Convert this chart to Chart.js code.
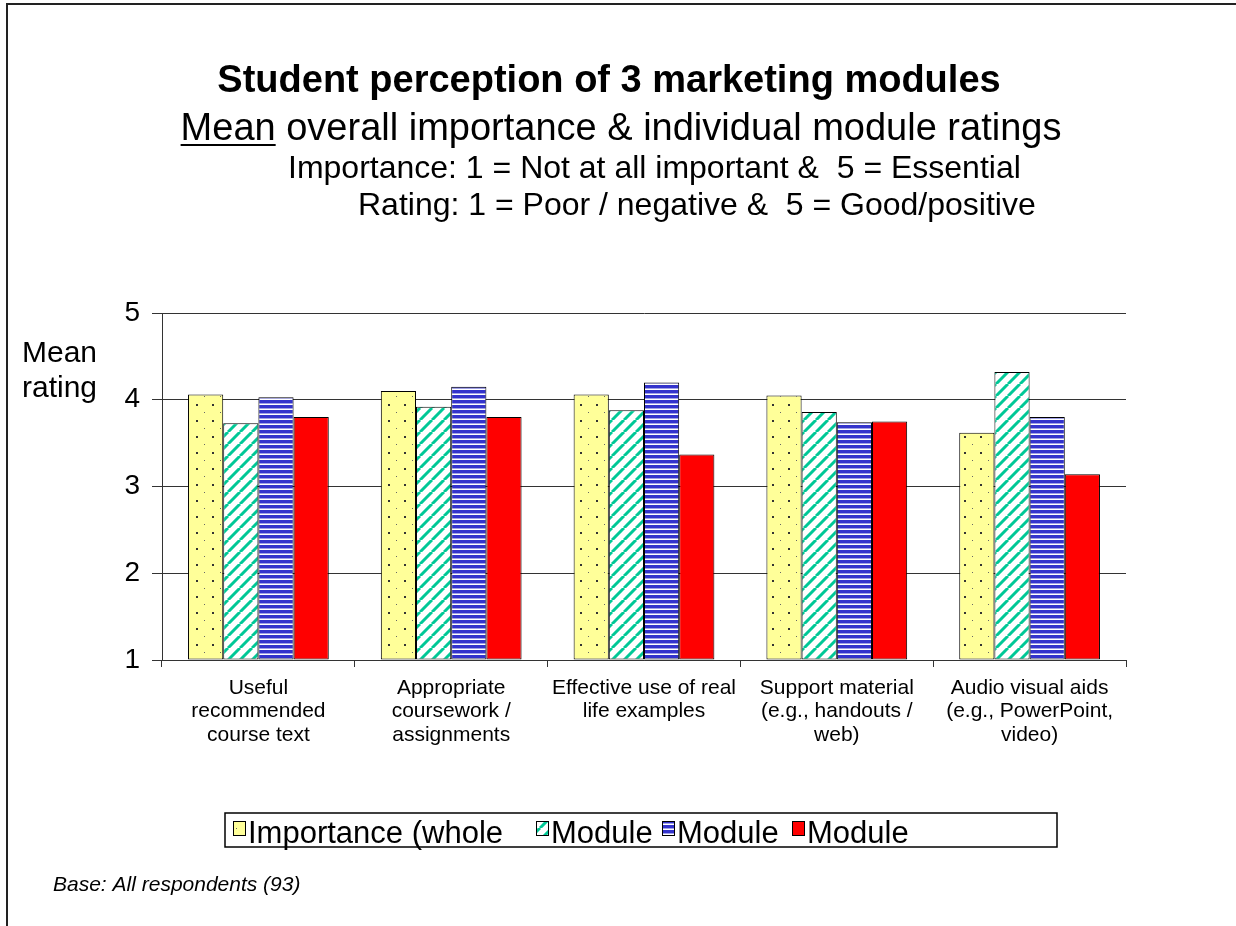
<!DOCTYPE html>
<html>
<head>
<meta charset="utf-8">
<script src="https://cdn.jsdelivr.net/npm/chart.js@4.4.1/dist/chart.umd.min.js"></script>
<style>
  body { margin: 0; background: #fff; }
  #wrap { position: absolute; left: 0; top: 0; width: 1236px; height: 926px; }
</style>
</head>
<body>
<div id="wrap"><canvas id="chart" width="1236" height="926"></canvas></div>
<script>
// data
const categories = [
    ["Useful", "recommended", "course text"],
    ["Appropriate", "coursework /", "assignments"],
    ["Effective use of real", "life examples"],
    ["Support material", "(e.g., handouts /", "web)"],
    ["Audio visual aids", "(e.g., PowerPoint,", "video)"]
];
const seriesNames = ["Importance (whole", "Module", "Module", "Module"];
const importance = [4.06, 4.10, 4.06, 4.05, 3.62];
const moduleA = [3.73, 3.92, 3.88, 3.86, 4.32];
const moduleB = [4.03, 4.15, 4.20, 3.74, 3.80];
const moduleC = [3.80, 3.80, 3.37, 3.75, 3.14];
const yTicks = [1, 2, 3, 4, 5];

const FONT = "Arial, 'Liberation Sans', sans-serif";

// fill patterns, excel style
function dotPattern() {
    const c = document.createElement("canvas");
    c.width = 16; c.height = 16;
    const g = c.getContext("2d");
    g.fillStyle = "#FFFF99";
    g.fillRect(0, 0, 16, 16);
    g.fillStyle = "#333";
    g.fillRect(4, 4, 2, 2);
    g.fillStyle = "#666";
    g.fillRect(12, 12, 1, 1);
    return g.createPattern(c, "repeat");
}

function diagPattern() {
    const p = 12;
    const c = document.createElement("canvas");
    c.width = p; c.height = p;
    const g = c.getContext("2d");
    g.fillStyle = "#fff";
    g.fillRect(0, 0, p, p);
    g.strokeStyle = "#00C896";
    g.lineWidth = 3;
    g.beginPath();
    for (let k = -p; k <= p; k += p) {
        g.moveTo(k, p);
        g.lineTo(k + p, 0);
    }
    g.stroke();
    return g.createPattern(c, "repeat");
}

function stripePattern() {
    const c = document.createElement("canvas");
    c.width = 8; c.height = 5;
    const g = c.getContext("2d");
    g.fillStyle = "#fff";
    g.fillRect(0, 0, 8, 5);
    g.fillStyle = "#3333CC";
    g.fillRect(0, 0, 8, 3);
    g.fillStyle = "#A0A0E8";
    g.fillRect(0, 3, 8, 1);
    return g.createPattern(c, "repeat");
}

const fills = [dotPattern(), diagPattern(), stripePattern(), "#FF0000"];
const values = [importance, moduleA, moduleB, moduleC];

const decor = {
    id: "decor",
    afterDraw(chart) {
        const ctx = chart.ctx;
        ctx.save();
        // page frame
        ctx.strokeStyle = "#222";
        ctx.lineWidth = 2;
        ctx.beginPath();
        ctx.moveTo(7, 927);
        ctx.lineTo(7, 4);
        ctx.lineTo(1236, 4);
        ctx.stroke();

        ctx.fillStyle = "#000";
        ctx.textBaseline = "alphabetic";
        ctx.textAlign = "center";
        ctx.font = "bold 38px " + FONT;
        ctx.fillText("Student perception of 3 marketing modules", 609, 92);

        ctx.font = "38px " + FONT;
        const sub = "Mean overall importance & individual module ratings";
        ctx.fillText(sub, 621, 140);
        const full = ctx.measureText(sub).width;
        const meanW = ctx.measureText("Mean").width;
        const sx = 621 - full / 2;
        ctx.fillRect(sx, 144, meanW, 2);

        ctx.textAlign = "left";
        ctx.font = "32px " + FONT;
        ctx.fillText("Importance: 1 = Not at all important &  5 = Essential", 288, 178);
        ctx.fillText("Rating: 1 = Poor / negative &  5 = Good/positive", 358, 215);

        ctx.font = "30px " + FONT;
        ctx.fillText("Mean", 22, 362);
        ctx.fillText("rating", 22, 397);

        ctx.font = "italic 21px " + FONT;
        ctx.fillText("Base: All respondents (93)", 53, 891);

        // legend box
        ctx.strokeStyle = "#000";
        ctx.lineWidth = 1.5;
        ctx.strokeRect(225, 813, 832, 34);
        const itemX = [233, 536, 662, 792];
        ctx.font = "31px " + FONT;
        chart.data.datasets.forEach((ds, i) => {
            ctx.fillStyle = ds.backgroundColor;
            ctx.fillRect(itemX[i], 821, 12, 14);
            ctx.lineWidth = 1;
            ctx.strokeRect(itemX[i] + 0.5, 821.5, 12, 14);
            ctx.fillStyle = "#000";
            ctx.fillText(ds.label, itemX[i] + 15, 843);
        });
        ctx.restore();
    }
};

new Chart(document.getElementById("chart"), {
    type: "bar",
    data: {
        labels: categories,
        datasets: values.map((v, i) => ({
            label: seriesNames[i],
            data: v,
            base: 1,
            backgroundColor: fills[i],
            borderColor: "#000",
            borderWidth: 1,
            borderSkipped: false,
            categoryPercentage: 0.73,
            barPercentage: 1
        }))
    },
    options: {
        responsive: false,
        animation: false,
        layout: { padding: { left: 0, right: 110, top: 313, bottom: 166 } },
        plugins: {
            legend: { display: false },
            title: { display: false },
            tooltip: { enabled: false }
        },
        scales: {
            x: {
                afterFit(s) { s.height = 100; },
                grid: { drawOnChartArea: false, drawTicks: true, tickLength: 7, color: "#333", offset: true },
                border: { display: true, color: "#333", width: 1 },
                ticks: {
                    color: "#000",
                    padding: 10,
                    maxRotation: 0,
                    autoSkip: false,
                    font: { family: FONT, size: 21, lineHeight: 1.1 }
                }
            },
            y: {
                min: yTicks[0],
                max: yTicks[yTicks.length - 1],
                afterFit(s) { s.width = 162; },
                afterBuildTicks(s) { s.ticks = yTicks.map(v => ({ value: v })); },
                grid: { color: "#333", lineWidth: 1, tickLength: 10 },
                border: { display: true, color: "#333", width: 1 },
                ticks: {
                    color: "#000",
                    padding: 12,
                    font: { family: FONT, size: 28 }
                }
            }
        }
    },
    plugins: [decor]
});
</script>
</body>
</html>
